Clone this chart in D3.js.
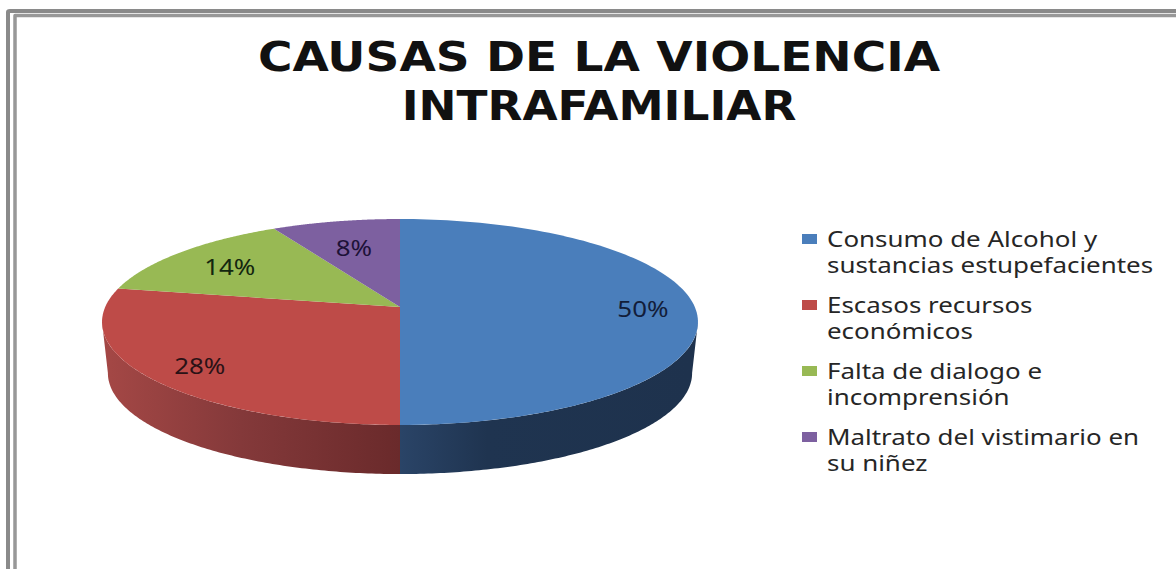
<!DOCTYPE html>
<html>
<head>
<meta charset="utf-8">
<script src="https://cdn.jsdelivr.net/npm/d3@7"></script>
<style>
	html, body { margin: 0; padding: 0; background: #fff; overflow: hidden; }
	svg { display: block; }
	text { font-family: "Noto Sans", sans-serif; }
	.title { font-family: "DejaVu Sans", sans-serif; }
</style>
</head>
<body>
<svg id="plot" width="1176" height="569"></svg>
<script>
const TITLE_LINES = ['CAUSAS DE LA VIOLENCIA', 'INTRAFAMILIAR'];
const CATEGORIES = [
	['Consumo de Alcohol y', 'sustancias estupefacientes'],
	['Escasos recursos', 'económicos'],
	['Falta de dialogo e', 'incomprensión'],
	['Maltrato del vistimario en', 'su niñez'],
];
const VALUES = [50, 28, 14, 8];
const COLORS = ['#4a7ebb', '#be4b48', '#98b954', '#7d60a0'];
const LABEL_COLORS = ['#121d3a', '#2a1216', '#13260f', '#1d1238'];
// how far out along the slice each percentage sits
const LABEL_RADIUS = [0.824, 0.815, 0.76, 0.69];

const WIDTH = 1176, HEIGHT = 569;
const CX = 400;
// the reference text is stretched sideways
const TEXT_STRETCH = 1.235;
const TITLE_STRETCH = [1.176, 1.135];

// tilted disc: the near side is drawn larger, so the slices meet above the middle of the ellipse
const TILT = 0.1456;
function projector(rx, ry, cy) {
	return (angle, r = 1) => {
		const u = r * Math.sin(angle), v = -r * Math.cos(angle);
		const d = 1 - TILT * v;
		return [CX + rx * u / d, cy + ry * v / d];
	};
}
const topFace = projector(294.8, 100.8, 307);
const bottomFace = projector(289, 98.8, 358.4);

const line = d3.line();
const angles = (a0, a1) => d3.range(0, 121).map((i) => a0 + (a1 - a0) * i / 120);

function drawFrame(svg) {
	const frame = svg.append('g').attr('fill', 'none').attr('stroke-linejoin', 'round');
	frame.append('path')
		.attr('d', `M8 ${HEIGHT} V12 Q8 11 10 11 H${WIDTH}`)
		.attr('stroke', '#8a8a8a').attr('stroke-width', 4);
	frame.append('path')
		.attr('d', `M15 ${HEIGHT} V15.5 H${WIDTH}`)
		.attr('stroke', '#989898').attr('stroke-width', 3.5);
}

function drawPie(svg) {
	const arcs = d3.pie().sort(null)(VALUES);
	const defs = svg.append('defs');

	const wallStops = [
		[['0%', '#2a4467'], ['30%', '#1f3450'], ['100%', '#1e324d']],
		[['0%', '#6a2a2b'], ['55%', '#84393a'], ['100%', '#a34745']],
	];
	wallStops.forEach((stops, i) => {
		const grad = defs.append('linearGradient')
			.attr('id', `wall${i}`)
			.attr('gradientUnits', 'userSpaceOnUse')
			.attr('x1', CX).attr('x2', i === 0 ? CX + 290 : CX - 290)
			.attr('y1', 0).attr('y2', 0);
		stops.forEach((s) => grad.append('stop').attr('offset', s[0]).attr('stop-color', s[1]));
	});

	// side wall, only the part that faces the viewer
	const rightEdge = Math.acos(-TILT);
	const leftEdge = 2 * Math.PI - rightEdge;
	svg.append('g').selectAll('path')
		.data(arcs.filter((d) => d.startAngle < leftEdge && d.endAngle > rightEdge))
		.join('path')
		.attr('fill', (d) => `url(#wall${d.index})`)
		.attr('d', (d) => {
			const a = angles(Math.max(d.startAngle, rightEdge), Math.min(d.endAngle, leftEdge));
			return line(a.map((t) => topFace(t)).concat(a.slice().reverse().map((t) => bottomFace(t)))) + 'Z';
		});

	svg.append('g').selectAll('path')
		.data(arcs)
		.join('path')
		.attr('fill', (d) => COLORS[d.index])
		.attr('d', (d) => line([topFace(0, 0)].concat(angles(d.startAngle, d.endAngle).map((t) => topFace(t)))) + 'Z');

	svg.append('g').selectAll('text')
		.data(arcs)
		.join('text')
		.attr('transform', (d) => {
			const p = topFace((d.startAngle + d.endAngle) / 2, LABEL_RADIUS[d.index]);
			return `translate(${p[0]},${p[1] + 2}) scale(${TEXT_STRETCH},1)`;
		})
		.attr('text-anchor', 'middle')
		.attr('dominant-baseline', 'central')
		.attr('font-size', 21)
		.attr('fill', (d) => LABEL_COLORS[d.index])
		.text((d) => `${d.value}%`);
}

function drawLegend(svg) {
	const y = d3.scalePoint().domain(d3.range(CATEGORIES.length)).range([247, 445]);
	const item = svg.append('g').selectAll('g')
		.data(CATEGORIES)
		.join('g')
		.attr('transform', (d, i) => `translate(802,${y(i)})`);
	item.append('rect')
		.attr('y', -13).attr('width', 15).attr('height', 10)
		.attr('fill', (d, i) => COLORS[i]);
	item.selectAll('text')
		.data((d) => d)
		.join('text')
		.attr('transform', (d, i) => `translate(25,${i * 26}) scale(${TEXT_STRETCH},1)`)
		.attr('font-size', 21)
		.attr('fill', '#262626')
		.text((d) => d);
}

function drawTitle(svg) {
	svg.append('g').selectAll('text')
		.data(TITLE_LINES)
		.join('text')
		.attr('class', 'title')
		.attr('transform', (d, i) => `translate(599,${71 + i * 49}) scale(${TITLE_STRETCH[i]},1)`)
		.attr('text-anchor', 'middle')
		.attr('font-size', 40)
		.attr('font-weight', 'bold')
		.attr('fill', '#111')
		.text((d) => d);
}

const svg = d3.select('#plot');
drawFrame(svg);
drawTitle(svg);
drawPie(svg);
drawLegend(svg);
</script>
</body>
</html>
